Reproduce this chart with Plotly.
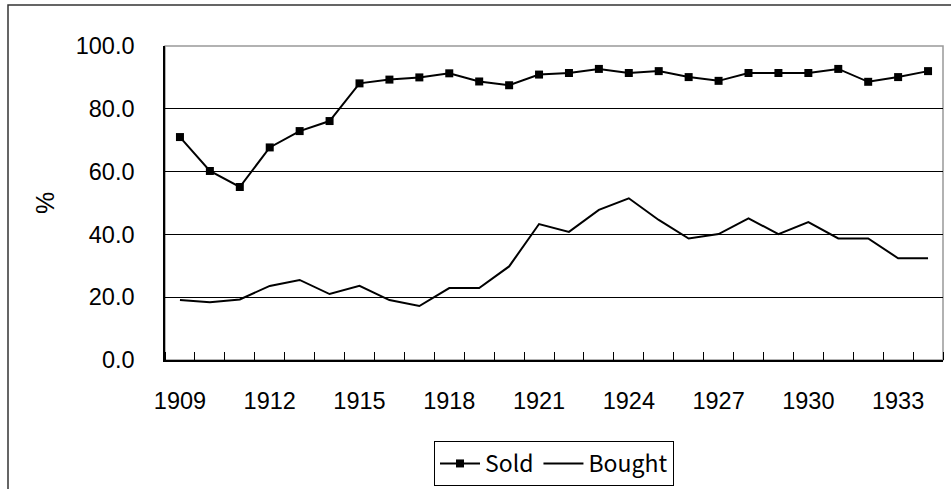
import plotly.graph_objects as go

years = list(range(1909, 1935))
sold = [71.0, 60.2, 55.1, 67.7, 72.9, 76.1, 88.1, 89.3, 90.0, 91.3, 88.7, 87.5,
        90.9, 91.4, 92.7, 91.4, 92.0, 90.1, 88.9, 91.4, 91.4, 91.4, 92.7, 88.6, 90.1, 92.0]
bought = [19.1, 18.4, 19.3, 23.6, 25.5, 21.0, 23.6, 19.1, 17.2, 22.9, 22.9, 29.8,
          43.3, 40.8, 47.8, 51.5, 44.6, 38.7, 40.1, 45.1, 40.1, 43.9, 38.7, 38.7, 32.4, 32.4]
label_years = list(range(1909, 1935, 3))
y_ticks = [0, 20, 40, 60, 80, 100]

W, H = 951, 489
ML, MR, MT, MB = 165, 8, 46, 129
pw, ph = W - ML - MR, H - MT - MB

fig = go.Figure()
fig.add_trace(go.Scatter(x=years, y=sold, name="Sold", mode="lines+markers",
                         line=dict(color="black", width=2),
                         marker=dict(symbol="square", size=8, color="black")))
fig.add_trace(go.Scatter(x=years, y=bought, name="Bought", mode="lines",
                         line=dict(color="black", width=2)))

axfont = dict(family="Liberation Sans, Arial, sans-serif", size=23.5, color="black")

fig.update_layout(
    width=W, height=H,
    margin=dict(l=ML, r=MR, t=MT, b=MB, autoexpand=False),
    paper_bgcolor="white", plot_bgcolor="white",
    showlegend=True,
    legend=dict(orientation="h", x=0.5, xanchor="center", y=-(441 - (H - MB)) / ph,
                yanchor="top", bordercolor="black", borderwidth=1,
                font=dict(family="Noto Sans CJK JP, sans-serif", size=23, color="black"),
                itemwidth=40, tracegroupgap=0, bgcolor="white"),
    xaxis=dict(range=[1908.5, 1934.5], tickmode="array", tickvals=label_years,
               ticktext=[str(y) for y in label_years], ticks="", showgrid=False,
               zeroline=False, showline=True, linecolor="black", linewidth=1.5,
               tickfont=axfont, ticklabelstandoff=19, automargin=False,
               minor=dict(ticks="inside", ticklen=8, tickcolor="black", tickwidth=1,
                          tick0=1908.5, dtick=1, showgrid=False)),
    yaxis=dict(range=[0, 100], tickmode="array", tickvals=y_ticks,
               ticktext=[f"{v:.1f}" for v in y_ticks], showgrid=True,
               gridcolor="black", gridwidth=1, zeroline=False, showline=True,
               linecolor="black", linewidth=1.5, ticks="", tickfont=axfont,
               ticklabelstandoff=24, automargin=False),
)

# plot area border (top/right gray)
fig.add_shape(type="rect", xref="paper", yref="paper", x0=0, y0=0, x1=1, y1=1,
              line=dict(color="#999999", width=1.5), layer="below")
# outer chart frame (cropped at right/bottom)
fig.add_shape(type="rect", xref="paper", yref="paper",
              x0=(8 - ML) / pw, y0=(H - MB - 5) / ph, x1=(W + 20 - ML) / pw, y1=-(MB + 20) / ph,
              line=dict(color="#333333", width=1.5), layer="below")

fig.add_annotation(text="%", xref="paper", yref="paper", x=(45 - ML) / pw, y=0.5,
                   textangle=-90, showarrow=False,
                   font=dict(family="Liberation Sans, Arial, sans-serif", size=25, color="black"),
                   xanchor="center", yanchor="middle")

fig.write_html("out.html", config={"displayModeBar": False},
               post_script="document.body.style.margin='0px';")
